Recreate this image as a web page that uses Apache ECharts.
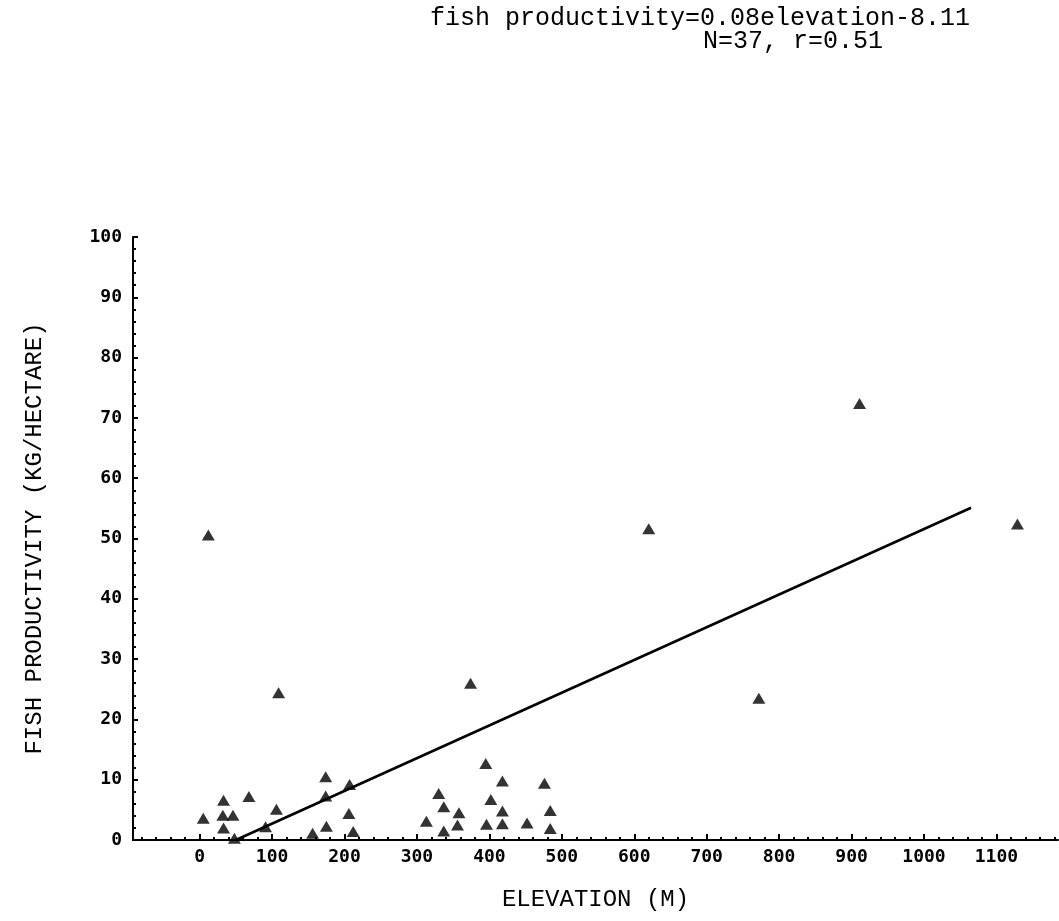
<!DOCTYPE html>
<html><head><meta charset="utf-8">
<script src="https://cdn.jsdelivr.net/npm/echarts@6/dist/echarts.min.js"></script>
<style>html,body{margin:0;padding:0;background:#fff}#c{width:1059px;height:921px}</style>
</head><body><div id="c"></div>
<script>
const titleLine1 = 'fish productivity=0.08elevation-8.11';
const titleLine2 = 'N=37, r=0.51';
const xAxisTitle = 'ELEVATION (M)';
const yAxisTitle = 'FISH PRODUCTIVITY (KG/HECTARE)';
const xTickValues = [0, 100, 200, 300, 400, 500, 600, 700, 800, 900, 1000, 1100];
const yTickValues = [0, 10, 20, 30, 40, 50, 60, 70, 80, 90, 100];

const elevation = [12, 109, 374, 620, 911, 1129, 772,
  5, 33, 32, 46, 33, 68, 106, 91, 48, 174, 174, 207, 206, 156, 175, 212,
  395, 418, 476, 330, 337, 402, 358, 356, 313, 337, 418, 418, 396, 452, 484, 484];
const productivity = [50.6, 24.4, 26, 51.6, 72.4, 52.4, 23.5,
  3.6, 6.6, 4.1, 4.1, 2.0, 7.2, 5.1, 2.2, 0.3, 10.5, 7.3, 9.2, 4.4, 1.1, 2.3, 1.4,
  12.7, 9.8, 9.4, 7.7, 5.5, 6.7, 4.5, 2.5, 3.1, 1.5, 4.8, 2.7, 2.6, 2.8, 4.9, 1.9];

// regression line as drawn in the figure (end points)
const fitElevation = [50, 1065];
const fitProductivity = [0, 55.1];

const minorX = [];
for (let v = -80; v <= 1180; v += 20) minorX.push(v);

const chart = echarts.init(document.getElementById('c'), null, {renderer: 'canvas'});
const mono = 'Liberation Mono';
const black = '#000';
chart.setOption({
  animation: false,
  backgroundColor: '#fff',
  title: [
    {text: titleLine1, left: 430, top: 6, padding: 0,
     textStyle: {fontFamily: mono, fontSize: 25, fontWeight: 'normal', color: black}},
    {text: titleLine2, left: 703, top: 29, padding: 0,
     textStyle: {fontFamily: mono, fontSize: 25, fontWeight: 'normal', color: black}}
  ],
  grid: {left: 133, right: 1, top: 237, bottom: 81, containLabel: false},
  xAxis: [{
    type: 'value', min: -92, max: 1185, position: 'bottom',
    name: xAxisTitle, nameLocation: 'middle', nameGap: 48,
    nameTextStyle: {fontFamily: mono, fontSize: 24, color: black},
    axisLine: {show: true, onZero: false, lineStyle: {color: black, width: 2}},
    axisTick: {show: true, inside: true, length: 6, customValues: xTickValues, lineStyle: {color: black, width: 2}},
    axisLabel: {show: true, customValues: xTickValues, margin: 8, color: black,
      formatter: (v) => String(v),
      fontFamily: 'DejaVu Sans Mono', fontWeight: 'bold', fontSize: 18},
    splitLine: {show: false}
  }, {
    type: 'value', min: -92, max: 1185, position: 'bottom',
    axisLine: {show: false, onZero: false},
    axisTick: {show: true, inside: true, length: 3, customValues: minorX, lineStyle: {color: black, width: 2}},
    axisLabel: {show: false},
    splitLine: {show: false}
  }],
  yAxis: {
    type: 'value', min: 0, max: 100, interval: 10,
    name: yAxisTitle, nameLocation: 'middle', nameGap: 86,
    nameTextStyle: {fontFamily: mono, fontSize: 24, color: black},
    axisLine: {show: true, onZero: false, lineStyle: {color: black, width: 2}},
    axisTick: {show: true, inside: true, length: 5, lineStyle: {color: black, width: 2}},
    minorTick: {show: true, splitNumber: 5, length: 3, lineStyle: {color: black, width: 2}},
    axisLabel: {show: true, margin: 11, color: black,
      formatter: (v) => String(v),
      fontFamily: 'DejaVu Sans Mono', fontWeight: 'bold', fontSize: 18},
    splitLine: {show: false}
  },
  series: [{
    type: 'line', xAxisIndex: 0,
    data: fitElevation.map((x, i) => [x, fitProductivity[i]]),
    showSymbol: false, symbol: 'none',
    lineStyle: {color: black, width: 2.5}, z: 2
  }, {
    type: 'scatter', xAxisIndex: 0,
    data: elevation.map((x, i) => [x, productivity[i]]),
    symbol: 'triangle', symbolSize: [13, 11],
    itemStyle: {color: black}, z: 3
  }]
});
</script></body></html>
